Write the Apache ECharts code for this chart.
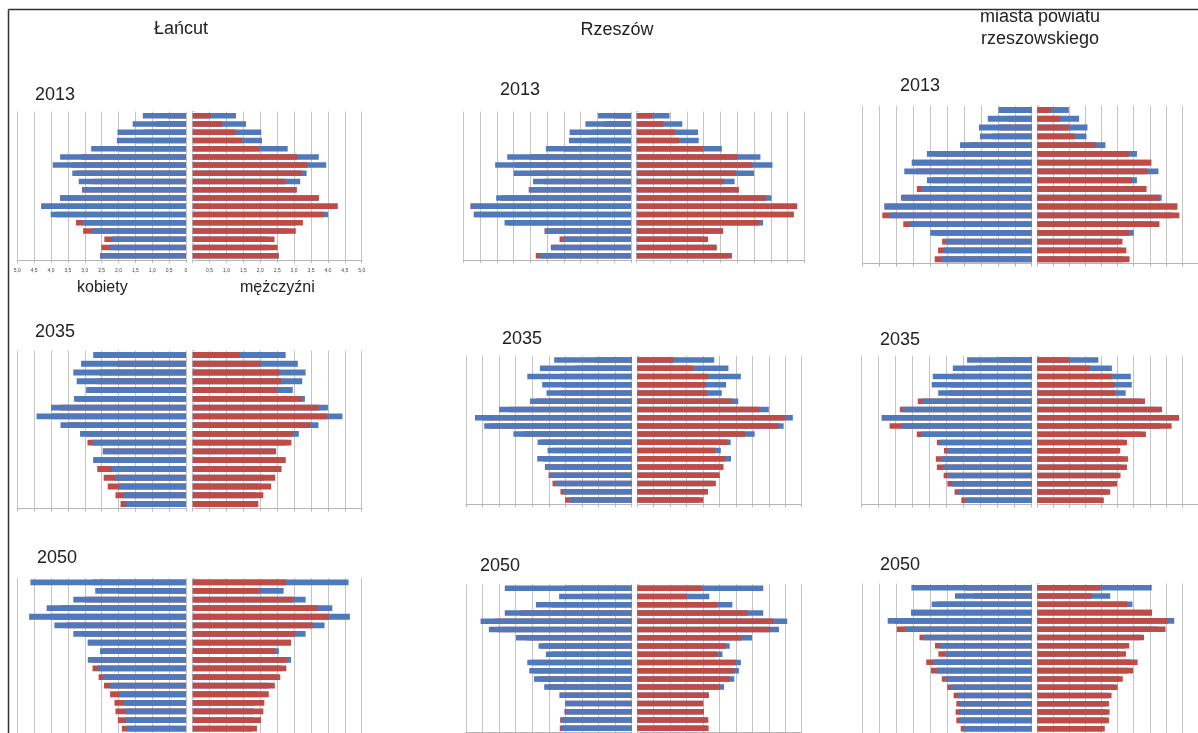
<!DOCTYPE html>
<html>
<head>
<meta charset="utf-8">
<title>Piramidy wieku</title>
<script src="https://cdn.jsdelivr.net/npm/echarts@6/dist/echarts.min.js"></script>
<style>
  html, body { margin: 0; padding: 0; background: #fff; }
  #chart { width: 1198px; height: 733px; }
</style>
</head>
<body>
<div id="chart"></div>
<script>
// grupy wieku od góry (85+) do dołu (0-4)
const ageGroups = ['85+', '80-84', '75-79', '70-74', '65-69', '60-64', '55-59', '50-54', '45-49',
  '40-44', '35-39', '30-34', '25-29', '20-24', '15-19', '10-14', '5-9', '0-4'];

const columnTitles = ['Łańcut', 'Rzeszów', 'miasta powiatu\nrzeszowskiego'];
const years = ['2013', '2035', '2050'];
const xTicks = [0, 0.5, 1, 1.5, 2, 2.5, 3, 3.5, 4, 4.5, 5];

// udział w % (kobiety / mężczyźni)
const lancut2013K = [1.28, 1.58, 2.03, 2.05, 2.81, 3.73, 3.95, 3.37, 3.18, 3.07, 3.73, 4.28, 4.01, 3.06, 2.78, 2.20, 2.25, 2.55];
const lancut2013M = [0.53, 0.88, 1.27, 1.47, 1.97, 3.10, 3.40, 3.23, 2.74, 3.08, 3.73, 4.29, 3.87, 3.26, 3.05, 2.42, 2.51, 2.54];
const rzeszow2013K = [0.98, 1.36, 1.83, 1.85, 2.54, 3.69, 4.05, 3.50, 2.92, 3.03, 4.02, 4.77, 4.67, 3.77, 2.56, 2.02, 2.37, 2.73];
const rzeszow2013M = [0.48, 0.80, 1.14, 1.26, 1.99, 3.00, 3.45, 2.96, 2.60, 3.05, 3.86, 4.79, 4.69, 3.66, 2.58, 2.13, 2.39, 2.84];
const miasta2013K = [0.98, 1.30, 1.56, 1.53, 2.12, 3.10, 3.55, 3.77, 3.10, 3.27, 3.87, 4.36, 4.21, 3.60, 3.00, 2.53, 2.61, 2.68];
const miasta2013M = [0.42, 0.69, 0.98, 1.16, 1.83, 2.85, 3.54, 3.42, 2.95, 3.40, 3.81, 4.35, 4.42, 3.80, 2.85, 2.65, 2.77, 2.87];

const lancut2035K = [2.75, 3.11, 3.34, 3.24, 2.96, 3.32, 4.00, 4.43, 3.72, 3.14, 2.77, 2.47, 2.75, 2.20, 2.10, 1.99, 1.86, 1.78];
const lancut2035M = [1.37, 2.00, 2.57, 2.62, 2.49, 3.23, 3.73, 3.97, 3.48, 2.96, 2.92, 2.46, 2.74, 2.63, 2.44, 2.32, 2.09, 1.94];
const rzeszow2035K = [2.34, 2.77, 3.15, 2.70, 2.57, 3.07, 4.00, 4.73, 4.45, 3.57, 2.84, 2.54, 2.85, 2.61, 2.46, 2.31, 2.08, 1.88];
const rzeszow2035M = [1.10, 1.70, 2.16, 2.08, 2.13, 2.89, 3.71, 4.49, 4.29, 3.28, 2.74, 2.36, 2.67, 2.62, 2.51, 2.39, 2.15, 2.01];
const miasta2035K = [1.90, 2.32, 2.91, 2.94, 2.75, 3.21, 3.80, 4.41, 3.82, 3.24, 2.70, 2.48, 2.65, 2.62, 2.48, 2.35, 2.16, 1.96];
const miasta2035M = [0.98, 1.64, 2.33, 2.39, 2.43, 3.35, 3.88, 4.41, 4.18, 3.38, 2.79, 2.58, 2.82, 2.79, 2.59, 2.48, 2.27, 2.07];

const lancut2050K = [4.61, 2.69, 3.34, 4.13, 4.65, 3.90, 3.34, 2.91, 2.55, 2.91, 2.60, 2.47, 2.25, 1.96, 1.83, 1.81, 1.78, 1.76];
const lancut2050M = [2.77, 1.98, 2.98, 3.70, 4.02, 3.55, 3.03, 2.91, 2.45, 2.79, 2.77, 2.59, 2.43, 2.25, 2.12, 2.09, 2.02, 1.90];
const rzeszow2050K = [3.83, 2.19, 2.89, 3.83, 4.56, 4.31, 3.49, 2.81, 2.59, 3.15, 3.09, 2.95, 2.64, 2.18, 1.98, 1.98, 2.11, 2.11];
const rzeszow2050M = [1.98, 1.50, 2.43, 3.36, 4.14, 4.04, 3.17, 2.69, 2.43, 3.00, 2.95, 2.82, 2.52, 2.17, 2.01, 2.03, 2.16, 2.17];
const miasta2050K = [3.56, 2.27, 2.96, 3.57, 4.26, 3.75, 3.22, 2.73, 2.56, 2.91, 2.81, 2.56, 2.40, 2.20, 2.14, 2.14, 2.14, 2.02];
const miasta2050M = [1.97, 1.70, 2.80, 3.56, 4.06, 3.99, 3.32, 2.86, 2.76, 3.12, 2.98, 2.66, 2.50, 2.31, 2.23, 2.25, 2.23, 2.10];

const BLUE = '#4f79bb';
const RED = '#bf4b47';
const GRID = '#c4c4c4';
const FONT = 'Arial, "Liberation Sans", sans-serif';

// rozmieszczenie piramid (lewa część: kobiety, prawa: mężczyźni)
const panels = [
  { k: lancut2013K, m: lancut2013M, lx: 17.3, lw: 168.7, rx: 192.7, rw: 169, top: 111.6, h: 148.2, year: 0, yx: 35, yy: 95 },
  { k: rzeszow2013K, m: rzeszow2013M, lx: 463.3, lw: 167.7, rx: 636.7, rw: 167.6, top: 111.6, h: 148.2, year: 0, yx: 500, yy: 90.5 },
  { k: miasta2013K, m: miasta2013M, lx: 862.7, lw: 169, rx: 1037.3, rw: 169.7, top: 105.6, h: 158, year: 0, yx: 900, yy: 86.3 },
  { k: lancut2035K, m: lancut2035M, lx: 17.3, lw: 168.7, rx: 192.7, rw: 169, top: 350.6, h: 157.8, year: 1, yx: 35, yy: 332 },
  { k: rzeszow2035K, m: rzeszow2035M, lx: 466, lw: 165.7, rx: 637.3, rw: 164.4, top: 355.9, h: 148.2, year: 1, yx: 502, yy: 338.8 },
  { k: miasta2035K, m: miasta2035M, lx: 861.7, lw: 170, rx: 1037.3, rw: 170.4, top: 355.9, h: 148.5, year: 1, yx: 880, yy: 340 },
  { k: lancut2050K, m: lancut2050M, lx: 17.3, lw: 168.7, rx: 192.7, rw: 169, top: 578, h: 157, year: 2, yx: 37, yy: 558 },
  { k: rzeszow2050K, m: rzeszow2050M, lx: 466, lw: 165.7, rx: 637.3, rw: 164.4, top: 584.2, h: 148.2, year: 2, yx: 480, yy: 566 },
  { k: miasta2050K, m: miasta2050M, lx: 862.7, lw: 169, rx: 1037.3, rw: 169.7, top: 583.6, h: 149.2, year: 2, yx: 880, yy: 565.3 }
];

const grid = [], xAxis = [], yAxis = [], series = [];

function fmt(v) {
  return v === 0 ? '0' : v.toFixed(1).replace('.', ',');
}

panels.forEach((p, i) => {
  const withLabels = i === 0;
  ['left', 'right'].forEach(side => {
    const gi = grid.length;
    const isLeft = side === 'left';
    grid.push({
      left: isLeft ? p.lx : p.rx,
      width: isLeft ? p.lw : p.rw,
      top: p.top,
      height: p.h,
      containLabel: false
    });
    xAxis.push({
      type: 'value',
      gridIndex: gi,
      min: 0,
      max: xTicks[xTicks.length - 1],
      interval: 0.5,
      inverse: isLeft,
      axisLine: { show: true, lineStyle: { color: '#b5b5b5', width: 1 } },
      axisTick: { show: true, length: 3, lineStyle: { color: '#b5b5b5' } },
      splitLine: { show: true, lineStyle: { color: GRID, width: 1 } },
      axisLabel: {
        show: withLabels,
        fontSize: 5,
        color: '#444',
        margin: 8,
        fontFamily: FONT,
        formatter: v => (!isLeft && v === 0) ? '' : fmt(v)
      }
    });
    yAxis.push({
      type: 'category',
      gridIndex: gi,
      data: ageGroups,
      inverse: true,
      axisLine: { show: !isLeft, lineStyle: { color: '#d4d4d4' } },
      axisTick: { show: !isLeft, inside: true, length: 2, lineStyle: { color: '#c8c8c8' } },
      axisLabel: { show: false }
    });
    // z przodu: kobiety po lewej, mężczyźni po prawej
    const back = isLeft ? { name: 'mężczyźni', data: p.m, color: RED } : { name: 'kobiety', data: p.k, color: BLUE };
    const front = isLeft ? { name: 'kobiety', data: p.k, color: BLUE } : { name: 'mężczyźni', data: p.m, color: RED };
    [back, front].forEach(s => {
      series.push({
        type: 'bar',
        name: s.name,
        xAxisIndex: gi,
        yAxisIndex: gi,
        data: s.data,
        barWidth: '67%',
        barGap: '-100%',
        itemStyle: { color: s.color },
        silent: true,
        animation: false
      });
    });
  });
});

const graphic = [];
const titleX = [181, 617, 1040];
graphic.push({ type: 'text', x: titleX[0], y: 29.5, style: { text: columnTitles[0], font: '18px ' + FONT, fill: '#222', align: 'center', verticalAlign: 'middle' } });
graphic.push({ type: 'text', x: titleX[1], y: 30, style: { text: columnTitles[1], font: '18px ' + FONT, fill: '#222', align: 'center', verticalAlign: 'middle' } });
columnTitles[2].split('\n').forEach((line, j) => {
  graphic.push({ type: 'text', x: titleX[2], y: 17.5 + j * 21.5, style: { text: line, font: '18px ' + FONT, fill: '#222', align: 'center', verticalAlign: 'middle' } });
});
panels.forEach(p => {
  graphic.push({ type: 'text', x: p.yx, y: p.yy, style: { text: years[p.year], font: '18px ' + FONT, fill: '#222', align: 'left', verticalAlign: 'middle' } });
});
graphic.push({ type: 'text', x: 77, y: 288, style: { text: 'kobiety', font: '16px ' + FONT, fill: '#222', align: 'left', verticalAlign: 'middle' } });
graphic.push({ type: 'text', x: 240, y: 288, style: { text: 'mężczyźni', font: '16px ' + FONT, fill: '#222', align: 'left', verticalAlign: 'middle' } });
// ramka
graphic.push({ type: 'line', shape: { x1: 8.5, y1: 9.5, x2: 1198, y2: 9.5 }, style: { stroke: '#333', lineWidth: 1.5 }, z: 100 });
graphic.push({ type: 'line', shape: { x1: 8.5, y1: 9.5, x2: 8.5, y2: 733 }, style: { stroke: '#333', lineWidth: 1.5 }, z: 100 });

const chart = echarts.init(document.getElementById('chart'), null, { renderer: 'canvas' });
chart.setOption({
  backgroundColor: '#fff',
  animation: false,
  grid,
  xAxis,
  yAxis,
  series,
  graphic
});
</script>
</body>
</html>
